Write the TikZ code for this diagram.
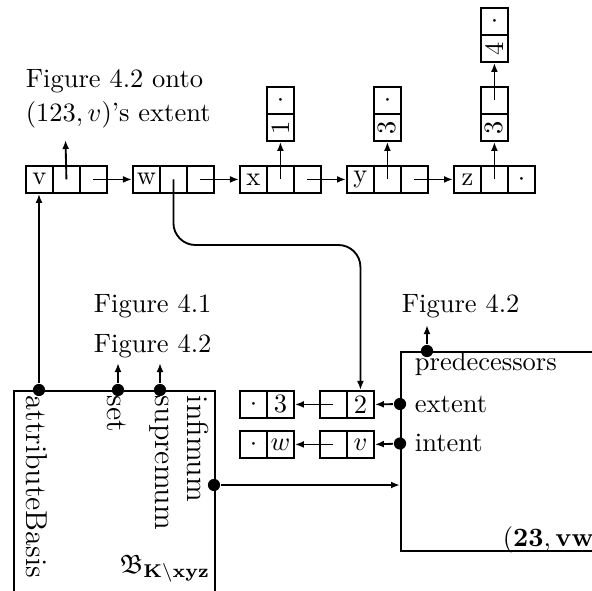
\documentclass[tikz,border=0pt]{standalone}
\usepackage{amssymb}
\usepackage{graphicx}
\usetikzlibrary{arrows.meta}
\begin{document}
\begin{tikzpicture}[x=0.3774pt,y=-0.3774pt, line width=0.7pt,
  every node/.style={font=\normalsize, inner sep=0pt},
  cellbox/.style={draw, minimum width=10.19pt, minimum height=10.19pt, inner sep=0pt, anchor=north west},
  arr/.style={-{Latex[length=3.4pt,width=2.6pt]}},
  dotc/.style={circle, fill, minimum size=4.6pt, inner sep=0pt},
  rotlab/.style={rotate=-90, anchor=base west, font=\fontsize{11.4}{13}\selectfont}]
\useasboundingbox (0,0) rectangle (592,590);
\clip (0,0) rectangle (592,590);
% top list
\node[cellbox] (v1) at (25,165) {v};
\node[cellbox] (v2) at (52,165) {};
\node[cellbox] (v3) at (79,165) {};
\node[cellbox] (w1) at (132,165) {w};
\node[cellbox] (w2) at (159,165) {};
\node[cellbox] (w3) at (186,165) {};
\node[cellbox] (x1) at (239,165) {x};
\node[cellbox] (x2) at (266,165) {};
\node[cellbox] (x3) at (293,165) {};
\node[cellbox] (y1) at (346,165) {y};
\node[cellbox] (y2) at (373,165) {};
\node[cellbox] (y3) at (400,165) {};
\node[cellbox] (z1) at (453,165) {z};
\node[cellbox] (z2) at (480,165) {};
\node[cellbox] (z3) at (507,165) {$\cdot$};
\draw[arr] (v3.center) -- (w1.west);
\draw[arr] (w3.center) -- (x1.west);
\draw[arr] (x3.center) -- (y1.west);
\draw[arr] (y3.center) -- (z1.west);
% stacks
\node[cellbox] (xs1) at (266,86) {$\cdot$};
\node[cellbox] (xs2) at (266,113) {\rotatebox{90}{1}};
\node[cellbox] (ys1) at (373,86) {$\cdot$};
\node[cellbox] (ys2) at (373,113) {\rotatebox{90}{3}};
\node[cellbox] (zs1) at (480,86) {};
\node[cellbox] (zs2) at (480,113) {\rotatebox{90}{3}};
\node[cellbox] (zt1) at (480,7) {$\cdot$};
\node[cellbox] (zt2) at (480,34) {\rotatebox{90}{4}};
\draw[arr] (x2.center) -- (xs2.south);
\draw[arr] (y2.center) -- (ys2.south);
\draw[arr] (z2.center) -- (zs2.south);
\draw[arr] (zs1.center) -- (zt2.south);
% labels top-left
\node[anchor=base west] (lab1) at (25,88) {Figure 4.2 onto};
\node[anchor=base west] (lab2) at (25,122) {$(123,v)$'s extent};
\coordinate (vup) at (65.5,140);
\draw[arr] (v2.center) -- (vup);
% bottom lists
\node[cellbox] (a1) at (239,390) {$\cdot$};
\node[cellbox] (a2) at (266,390) {3};
\node[cellbox] (b1) at (319,390) {};
\node[cellbox] (b2) at (346,390) {2};
\node[cellbox] (c1) at (239,430) {$\cdot$};
\node[cellbox] (c2) at (266,430) {$w$};
\node[cellbox] (d1) at (319,430) {};
\node[cellbox] (d2) at (346,430) {$v$};
\draw[arr] (b1.center) -- (a2.east);
\draw[arr] (d1.center) -- (c2.east);
% curved connector
\coordinate (bendy) at (0,245);
\draw[arr, rounded corners=8.3pt] (w2.center) -- (w2.center |- bendy) -- (b2.north |- bendy) -- (b2.north);
% right box
\node[draw, anchor=north west, minimum width=86.8pt, minimum height=75.1pt] (rbox) at (400,351) {};
\node[dotc] (rd1) at (400,404) {};
\node[dotc] (rd2) at (400,443.5) {};
\node[dotc] (rdt) at (427,351) {};
\draw[arr] (rd1) -- (b2.east);
\draw[arr] (rd2) -- (d2.east);
\coordinate (rdup) at (427,325);
\draw[arr] (rdt) -- (rdup);
\node[anchor=base west] (rfig) at (401,312) {Figure 4.2};
\node[anchor=base west] (pred) at (414,370) {predecessors};
\node[anchor=base west] (ext) at (414,412) {extent};
\node[anchor=base west] (int) at (414,451) {intent};
\node[anchor=base west] (rname) at (502,546) {$(\mathbf{23},\mathbf{vw}$};
% left box
\node[draw, anchor=north west, minimum width=75.86pt, minimum height=90.6pt] (lbox) at (13,390) {};
\node[dotc] (ld1) at (39,390) {};
\node[dotc] (ld2) at (118,390) {};
\node[dotc] (ld3) at (160,390) {};
\node[dotc] (ld4) at (214,485) {};
\draw[arr] (ld1) -- (ld1 |- v1.south);
\coordinate (ld2up) at (118,363);
\coordinate (ld3up) at (160,363);
\draw[arr] (ld2) -- (ld2up);
\draw[arr] (ld3) -- (ld3up);
\draw[arr] (ld4) -- (ld4 -| rbox.west);
\node[anchor=base west] (f41) at (93,312) {Figure 4.1};
\node[anchor=base west] (f42) at (93,352) {Figure 4.2};
\node[rotlab] (tab) at (26,395) {attributeBasis};
\node[rotlab] (tset) at (107,395) {set};
\node[rotlab] (tsup) at (155,395) {supremum};
\node[rotlab] (tinf) at (187,395) {infimum};
\node[anchor=base east] (bname) at (211,573) {$\mathfrak{B}_{\mathbf{K}\backslash\mathbf{xyz}}$};
\end{tikzpicture}
\end{document}
